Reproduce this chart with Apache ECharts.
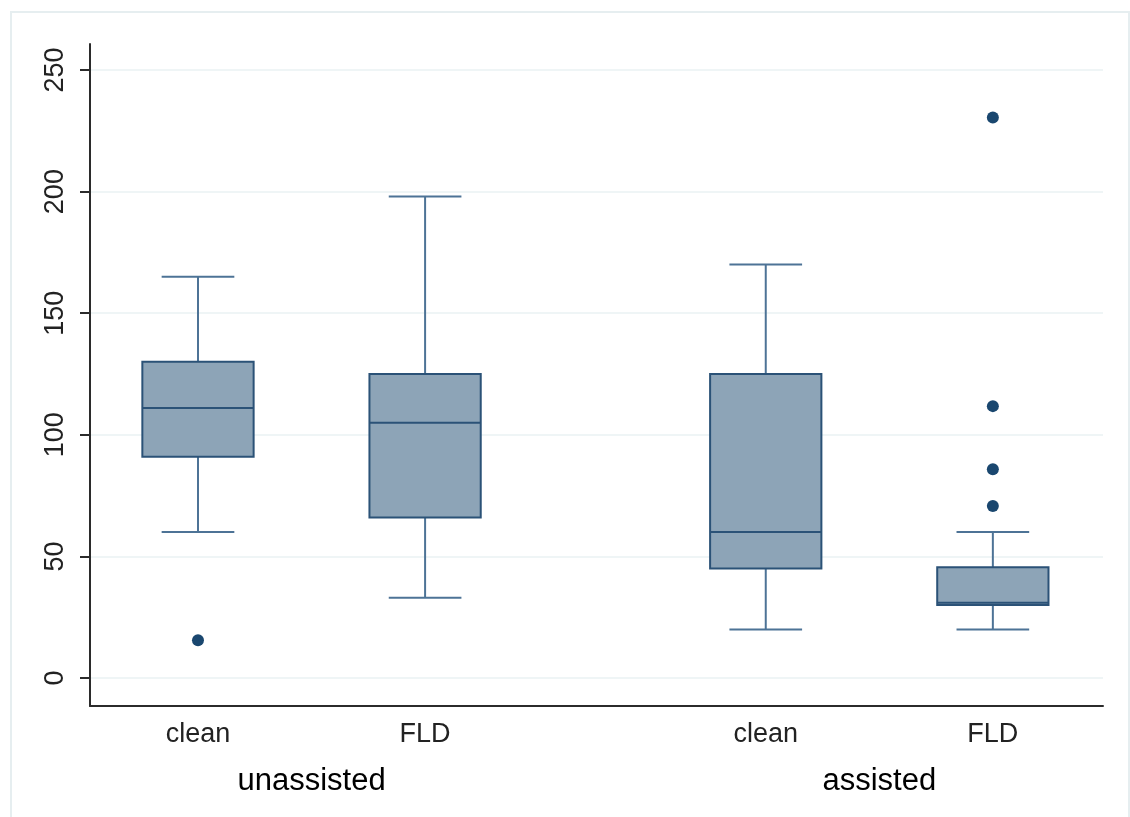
<!DOCTYPE html>
<html>
<head>
<meta charset="utf-8">
<script src="https://cdn.jsdelivr.net/npm/echarts@6/dist/echarts.min.js"></script>
<style>
html,body{margin:0;padding:0;background:#fff;}
#chart{width:1130px;height:817px;}
</style>
</head>
<body>
<div id="chart"></div>
<script>
// ---- data ----
const groups = ['unassisted', 'assisted'];
const categories = ['clean', 'FLD'];
const boxMin    = [60, 33, 20, 20];
const boxQ1     = [91, 66, 45, 30];
const boxMedian = [111, 105, 60, 31];
const boxQ3     = [130, 125, 125, 45.5];
const boxMax    = [165, 198, 170, 60];
// outliers: [box index, value]
const outliers = [[0, 15.5], [3, 230.5], [3, 111.8], [3, 85.8], [3, 70.7]];
const yTicks = [0, 50, 100, 150, 200, 250];

// ---- layout helpers ----
const groupGap = 1.5;
function boxX(i) {
  const g = Math.floor(i / categories.length), j = i % categories.length;
  return g * (categories.length - 1 + groupGap) + j;
}
const nBoxes = groups.length * categories.length;
const catPositions = [], catLabels = {}, groupPositions = [], groupLabels = {};
for (let i = 0; i < nBoxes; i++) {
  catPositions.push(boxX(i));
  catLabels[boxX(i)] = categories[i % categories.length];
}
groups.forEach((g, gi) => {
  const p = (boxX(gi * categories.length) + boxX(gi * categories.length + categories.length - 1)) / 2;
  groupPositions.push(p);
  groupLabels[p] = g;
});

const boxData = boxMin.map((v, i) => [boxX(i), boxMin[i], boxQ1[i], boxMedian[i], boxQ3[i], boxMax[i]]);
const outlierData = outliers.map(o => [boxX(o[0]), o[1]]);

const BOX_HALF = 0.245, CAP_HALF = 0.16;
const fillColor = '#8da4b7', borderColor = '#2b5277', whiskerColor = '#4d7396';

function renderBox(params, api) {
  const x = api.value(0);
  const pMin = api.coord([x, api.value(1)]);
  const pQ1 = api.coord([x, api.value(2)]);
  const pMed = api.coord([x, api.value(3)]);
  const pQ3 = api.coord([x, api.value(4)]);
  const pMax = api.coord([x, api.value(5)]);
  const bl = api.coord([x - BOX_HALF, 0])[0], br = api.coord([x + BOX_HALF, 0])[0];
  const cl = api.coord([x - CAP_HALF, 0])[0], cr = api.coord([x + CAP_HALF, 0])[0];
  const cx = pMed[0];
  const wStyle = {stroke: whiskerColor, lineWidth: 2};
  return {
    type: 'group',
    children: [
      {type: 'line', shape: {x1: cx, y1: pQ3[1], x2: cx, y2: pMax[1]}, style: wStyle},
      {type: 'line', shape: {x1: cl, y1: pMax[1], x2: cr, y2: pMax[1]}, style: wStyle},
      {type: 'line', shape: {x1: cx, y1: pQ1[1], x2: cx, y2: pMin[1]}, style: wStyle},
      {type: 'line', shape: {x1: cl, y1: pMin[1], x2: cr, y2: pMin[1]}, style: wStyle},
      {type: 'rect', shape: {x: bl, y: pQ3[1], width: br - bl, height: pQ1[1] - pQ3[1]},
        style: {fill: fillColor, stroke: borderColor, lineWidth: 2}},
      {type: 'line', shape: {x1: bl, y1: pMed[1], x2: br, y2: pMed[1]},
        style: {stroke: borderColor, lineWidth: 2}}
    ]
  };
}

const chart = echarts.init(document.getElementById('chart'), null, {renderer: 'canvas'});
const xMin = -0.4755, xMax = 3.985;
chart.setOption({
  animation: false,
  backgroundColor: '#ffffff',
  graphic: [{
    type: 'rect', silent: true, z: -10,
    shape: {x: 11, y: 12, width: 1118, height: 830},
    style: {fill: '#ffffff', stroke: '#e6eef0', lineWidth: 2}
  }],
  grid: {left: 90, right: 27, top: 44, bottom: 111, containLabel: false},
  xAxis: [{
    type: 'value', min: xMin, max: xMax, position: 'bottom',
    axisLine: {show: true, onZero: false, lineStyle: {color: '#2b2b2b', width: 2}},
    axisTick: {show: false},
    splitLine: {show: false},
    axisLabel: {
      customValues: catPositions, margin: 15,
      formatter: v => catLabels[v] || '',
      fontFamily: 'Liberation Sans, Arial, sans-serif', fontSize: 27, color: '#222'
    }
  }, {
    type: 'value', min: xMin, max: xMax, position: 'bottom', offset: 46,
    axisLine: {show: false}, axisTick: {show: false}, splitLine: {show: false},
    axisLabel: {
      customValues: groupPositions, margin: 14,
      formatter: v => groupLabels[v] || '',
      fontFamily: 'Liberation Sans, Arial, sans-serif', fontSize: 31, color: '#000'
    }
  }],
  yAxis: {
    type: 'value', min: -11.5, max: 260.7,
    axisLine: {show: true, onZero: false, lineStyle: {color: '#2b2b2b', width: 2}},
    axisTick: {show: true, customValues: yTicks, length: 10, lineStyle: {color: '#2b2b2b', width: 2}},
    splitLine: {show: true, lineStyle: {color: '#eaf2f3', width: 1.5}},
    axisLabel: {
      customValues: yTicks, rotate: 90, margin: 21,
      fontFamily: 'Liberation Sans, Arial, sans-serif', fontSize: 27, color: '#222'
    }
  },
  series: [{
    type: 'custom', name: 'box', renderItem: renderBox,
    encode: {x: 0, y: [1, 2, 3, 4, 5]},
    data: boxData, z: 2
  }, {
    type: 'scatter', name: 'outliers', data: outlierData,
    symbol: 'circle', symbolSize: 12,
    itemStyle: {color: '#1a476f', opacity: 1}, z: 3
  }]
});
</script>
</body>
</html>
